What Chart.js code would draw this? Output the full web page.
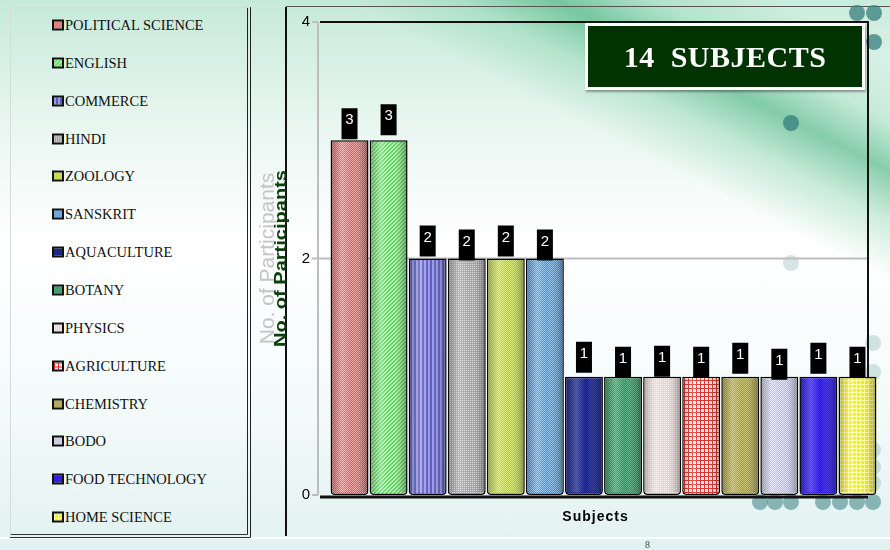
<!DOCTYPE html>
<html>
<head>
<meta charset="utf-8">
<title>14 Subjects</title>
<script src="https://cdn.jsdelivr.net/npm/chart.js@4.4.0/dist/chart.umd.min.js"></script>
<style>
  html, body { margin: 0; padding: 0; }
  body {
    width: 890px; height: 550px; overflow: hidden; position: relative;
    font-family: "Liberation Sans", Arial, sans-serif;
    background:
      linear-gradient(27deg, rgba(255,255,255,0) 72%, rgba(120,205,160,0.35) 78%, rgba(50,170,110,0.55) 83%, rgba(140,215,175,0.35) 88%, rgba(220,245,235,0.2) 94%),
      linear-gradient(180deg, #c6ead9 0%, #e8f6f0 22%, #ffffff 45%, #f3fafa 75%, #e2f1f1 100%);
  }
  #chart { position: absolute; left: 0; top: 0; }
  .dot { position: absolute; width: 16px; height: 16px; border-radius: 50%; }
  .legend {
    position: absolute; left: 10px; top: 7px; width: 236px; height: 526px;
    border-left: 1px solid #d4ddd9; border-top: 1px solid #d4ddd9;
    border-right: 4px double #222; border-bottom: 4px double #333;
  }
  .legend .item {
    position: absolute; left: 41px; transform: translateY(-50%);
    display: flex; align-items: center; white-space: nowrap;
    font-family: "Liberation Serif", serif; font-size: 14.5px; color: #111;
  }
  .legend .sw { width: 8px; height: 7px; border: 2px solid #111; margin-right: 1px; }
  .line { position: absolute; }
  .title-box {
    position: absolute; left: 585px; top: 23px; width: 280px; height: 67px; box-sizing: border-box;
    background: #003300; border: 3px solid #fff; box-shadow: 1px 2px 2px rgba(0,0,0,0.35);
    color: #fff; font-family: "Liberation Serif", serif; font-weight: bold; font-size: 30px;
    display: flex; align-items: center; justify-content: center; white-space: pre; letter-spacing: 0.5px;
  }
  .page-no { position: absolute; left: 645px; top: 539px; font-family: "Liberation Serif", serif; font-size: 10px; color: #2d4d3d; }
</style>
</head>
<body>
<div class="line" style="left:286px; top:6px; width:604px; height:1px; background:#555;"></div>
<div class="line" style="left:0; top:537px; width:890px; height:2px; background:#fff;"></div>
<div class="line" style="left:285px; top:7px; width:2px; height:529px; background:#111;"></div>
<div class="legend" id="legend"></div>
<canvas id="chart" width="890" height="550"></canvas>
<div class="title-box">14  SUBJECTS</div>
<div class="page-no">8</div>
<script>
// chart values
const subjects = ['POLITICAL SCIENCE', 'ENGLISH', 'COMMERCE', 'HINDI', 'ZOOLOGY', 'SANSKRIT', 'AQUACULTURE',
  'BOTANY', 'PHYSICS', 'AGRICULTURE', 'CHEMISTRY', 'BODO', 'FOOD TECHNOLOGY', 'HOME SCIENCE'];
const participants = [3, 3, 2, 2, 2, 2, 1, 1, 1, 1, 1, 1, 1, 1];
const yTicks = [0, 2, 4];
const yTitle = 'No. of Participants';
const xTitle = 'Subjects';

// fill per bar: texture, background colour, texture colour
const barLooks = [
  ['check', '#d45858', '#f4a8a8'],
  ['diag', '#5fd45f', '#b0f2b0'],
  ['vert', '#5a5ac4', '#9a9ae6'],
  ['dots', '#a4a4a4', '#dcdcdc'],
  ['check', '#b2c63a', '#dcec78'],
  ['check', '#4a88cc', '#94c4f0'],
  ['check', '#0e1878', '#2a349e'],
  ['check', '#2c8656', '#5cb488'],
  ['dots', '#e2d6d2', '#faf6f4'],
  ['grid', '#fbeeee', '#e02a2a'],
  ['check', '#9c9640', '#cac274'],
  ['check', '#b4b4de', '#e6e6fa'],
  ['check', '#2810e0', '#3c2cf0'],
  ['grid', '#f2f200', '#ffffa8']
];
// small vertical shifts of the value tags (px)
const tagNudge = [0, -4, -1, 3, -1, 3, -3, 2, 1, 2, -2, 4, -2, 2];

// decoration dots of the slide background
const dots = [
  [849, 5, 0.75], [866, 5, 0.75], [866, 34, 0.75], [783, 115, 0.75],
  [783, 255, 0.2], [865, 335, 0.2], [865, 364, 0.2], [865, 442, 0.2], [865, 459, 0.2], [865, 475, 0.2],
  [752, 494, 0.55], [767, 494, 0.55], [783, 494, 0.55], [815, 494, 0.55], [832, 494, 0.55], [849, 494, 0.55], [865, 494, 0.55]
];
dots.forEach(d => {
  const el = document.createElement('div');
  el.className = 'dot';
  el.style.left = d[0] + 'px';
  el.style.top = d[1] + 'px';
  el.style.background = `rgba(55,125,125,${d[2]})`;
  document.body.insertBefore(el, document.getElementById('chart'));
});

function texture(kind, bg, fg) {
  const c = document.createElement('canvas');
  c.width = c.height = 4;
  const g = c.getContext('2d');
  g.fillStyle = bg;
  g.fillRect(0, 0, 4, 4);
  g.fillStyle = fg;
  for (let x = 0; x < 4; x++) {
    for (let y = 0; y < 4; y++) {
      let on = false;
      if (kind === 'check') on = (x + y) % 2 === 0;
      if (kind === 'diag') on = (x + y) % 4 < 2;
      if (kind === 'vert') on = x % 4 < 2;
      if (kind === 'dots') on = x % 2 === 0 && y % 2 === 0;
      if (kind === 'grid') on = x === 0 || y === 0;
      if (on) g.fillRect(x, y, 1, 1);
    }
  }
  return c;
}

const tiles = barLooks.map(l => texture(l[0], l[1], l[2]));
const patCtx = document.createElement('canvas').getContext('2d');
const fills = tiles.map(t => patCtx.createPattern(t, 'repeat'));

// legend on the left
const legend = document.getElementById('legend');
subjects.forEach((name, i) => {
  const item = document.createElement('div');
  item.className = 'item';
  item.style.top = (17 + i * 37.85) + 'px';
  const sw = document.createElement('span');
  sw.className = 'sw';
  sw.style.backgroundImage = `url(${tiles[i].toDataURL()})`;
  item.appendChild(sw);
  item.appendChild(document.createTextNode(name));
  legend.appendChild(item);
});

// plot frame, axis line and grid line
const frame = {
  id: 'frame',
  beforeDatasetsDraw(chart) {
    const { ctx, chartArea: a, scales: { y } } = chart;
    const axisX = a.left - 12, frameR = a.right - 9;
    ctx.save();
    ctx.strokeStyle = '#bdbdbd';
    ctx.lineWidth = 2;
    ctx.beginPath();
    ctx.moveTo(axisX, a.top);
    ctx.lineTo(axisX, a.bottom);
    ctx.stroke();
    y.ticks.forEach(t => {
      const py = y.getPixelForValue(t.value);
      ctx.beginPath();
      ctx.moveTo(axisX - 6, py);
      ctx.lineTo(t.value > y.min && t.value < y.max ? frameR : axisX, py);
      ctx.stroke();
    });
    ctx.strokeStyle = '#111';
    ctx.beginPath();
    ctx.moveTo(axisX + 2, a.top);
    ctx.lineTo(frameR, a.top);
    ctx.lineTo(frameR, a.bottom);
    ctx.stroke();
    ctx.lineWidth = 3;
    ctx.beginPath();
    ctx.moveTo(axisX + 2, a.bottom + 2);
    ctx.lineTo(frameR, a.bottom + 2);
    ctx.stroke();
    ctx.restore();
  }
};

// cylinder shading and black value tags
const valueTags = {
  id: 'valueTags',
  afterDatasetsDraw(chart) {
    const ctx = chart.ctx;
    ctx.save();
    chart.getDatasetMeta(0).data.forEach((bar, i) => {
      const left = bar.x - bar.width / 2, w = bar.width;
      const gr = ctx.createLinearGradient(left, 0, left + w, 0);
      gr.addColorStop(0, 'rgba(0,0,0,0.25)');
      gr.addColorStop(0.3, 'rgba(255,255,255,0.22)');
      gr.addColorStop(0.55, 'rgba(255,255,255,0)');
      gr.addColorStop(1, 'rgba(0,0,0,0.35)');
      ctx.fillStyle = gr;
      ctx.fillRect(left + 1.5, bar.y + 1.5, w - 3, bar.base - bar.y - 4);

      const top = bar.y - 32 + tagNudge[i];
      ctx.fillStyle = '#000';
      ctx.fillRect(bar.x - 8, top, 16, 31);
      ctx.fillStyle = '#fff';
      ctx.font = '15px "Liberation Sans", Arial';
      ctx.textAlign = 'center';
      ctx.textBaseline = 'middle';
      ctx.fillText(String(participants[i]), bar.x, top + 12);
    });
    ctx.restore();
  }
};

// axis titles
const axisTexts = {
  id: 'axisTexts',
  afterDraw(chart) {
    const { ctx, chartArea: a } = chart;
    const midY = (a.top + a.bottom) / 2;
    ctx.save();
    // grey title
    ctx.translate(a.left - 62, midY);
    ctx.rotate(-Math.PI / 2);
    ctx.font = '21px "Liberation Sans", Arial';
    ctx.fillStyle = '#c4c4c4';
    ctx.textAlign = 'center';
    ctx.textBaseline = 'middle';
    ctx.fillText(yTitle, 0, 0);
    ctx.restore();

    // dark green overprinted copy
    ctx.save();
    ctx.translate(a.left - 48, midY);
    ctx.rotate(-Math.PI / 2);
    ctx.font = 'bold 16px "Liberation Sans", Arial';
    const w = ctx.measureText(yTitle).width;
    ctx.scale(177 / w, 1);
    ctx.fillStyle = '#0a400c';
    ctx.textAlign = 'center';
    ctx.textBaseline = 'middle';
    ctx.fillText(yTitle, 0, 0);
    ctx.restore();

    ctx.save();
    ctx.font = 'bold 14px "Liberation Sans", Arial';
    ctx.letterSpacing = '1px';
    ctx.fillStyle = '#000';
    ctx.textAlign = 'center';
    ctx.textBaseline = 'middle';
    ctx.fillText(xTitle, (a.left + a.right) / 2 - 8, a.bottom + 22);
    ctx.restore();
  }
};

const ctx = document.getElementById('chart').getContext('2d');
new Chart(ctx, {
  type: 'bar',
  data: {
    labels: subjects,
    datasets: [{
      label: yTitle,
      data: participants,
      backgroundColor: fills,
      borderColor: '#000',
      borderWidth: 1.5,
      borderSkipped: false,
      borderRadius: { topLeft: 0, topRight: 0, bottomLeft: 4, bottomRight: 4 },
      barPercentage: 0.97,
      categoryPercentage: 1
    }]
  },
  options: {
    responsive: false,
    animation: false,
    layout: { padding: { left: 300, right: 13, top: 22, bottom: 0 } },
    plugins: {
      legend: { display: false },
      tooltip: { enabled: false }
    },
    scales: {
      x: {
        grid: { display: false, drawTicks: false },
        border: { display: false },
        ticks: { display: false },
        afterFit: s => { s.height = 55; }
      },
      y: {
        min: 0,
        max: 4,
        grid: { display: false, drawTicks: false },
        border: { display: false },
        ticks: { padding: 20, color: '#000', font: { family: 'Liberation Sans', size: 15 } },
        afterBuildTicks: s => { s.ticks = yTicks.map(v => ({ value: v })); },
        afterFit: s => { s.width = 30; s.paddingTop = 0; s.paddingBottom = 0; }
      }
    }
  },
  plugins: [frame, valueTags, axisTexts]
});
</script>
</body>
</html>
